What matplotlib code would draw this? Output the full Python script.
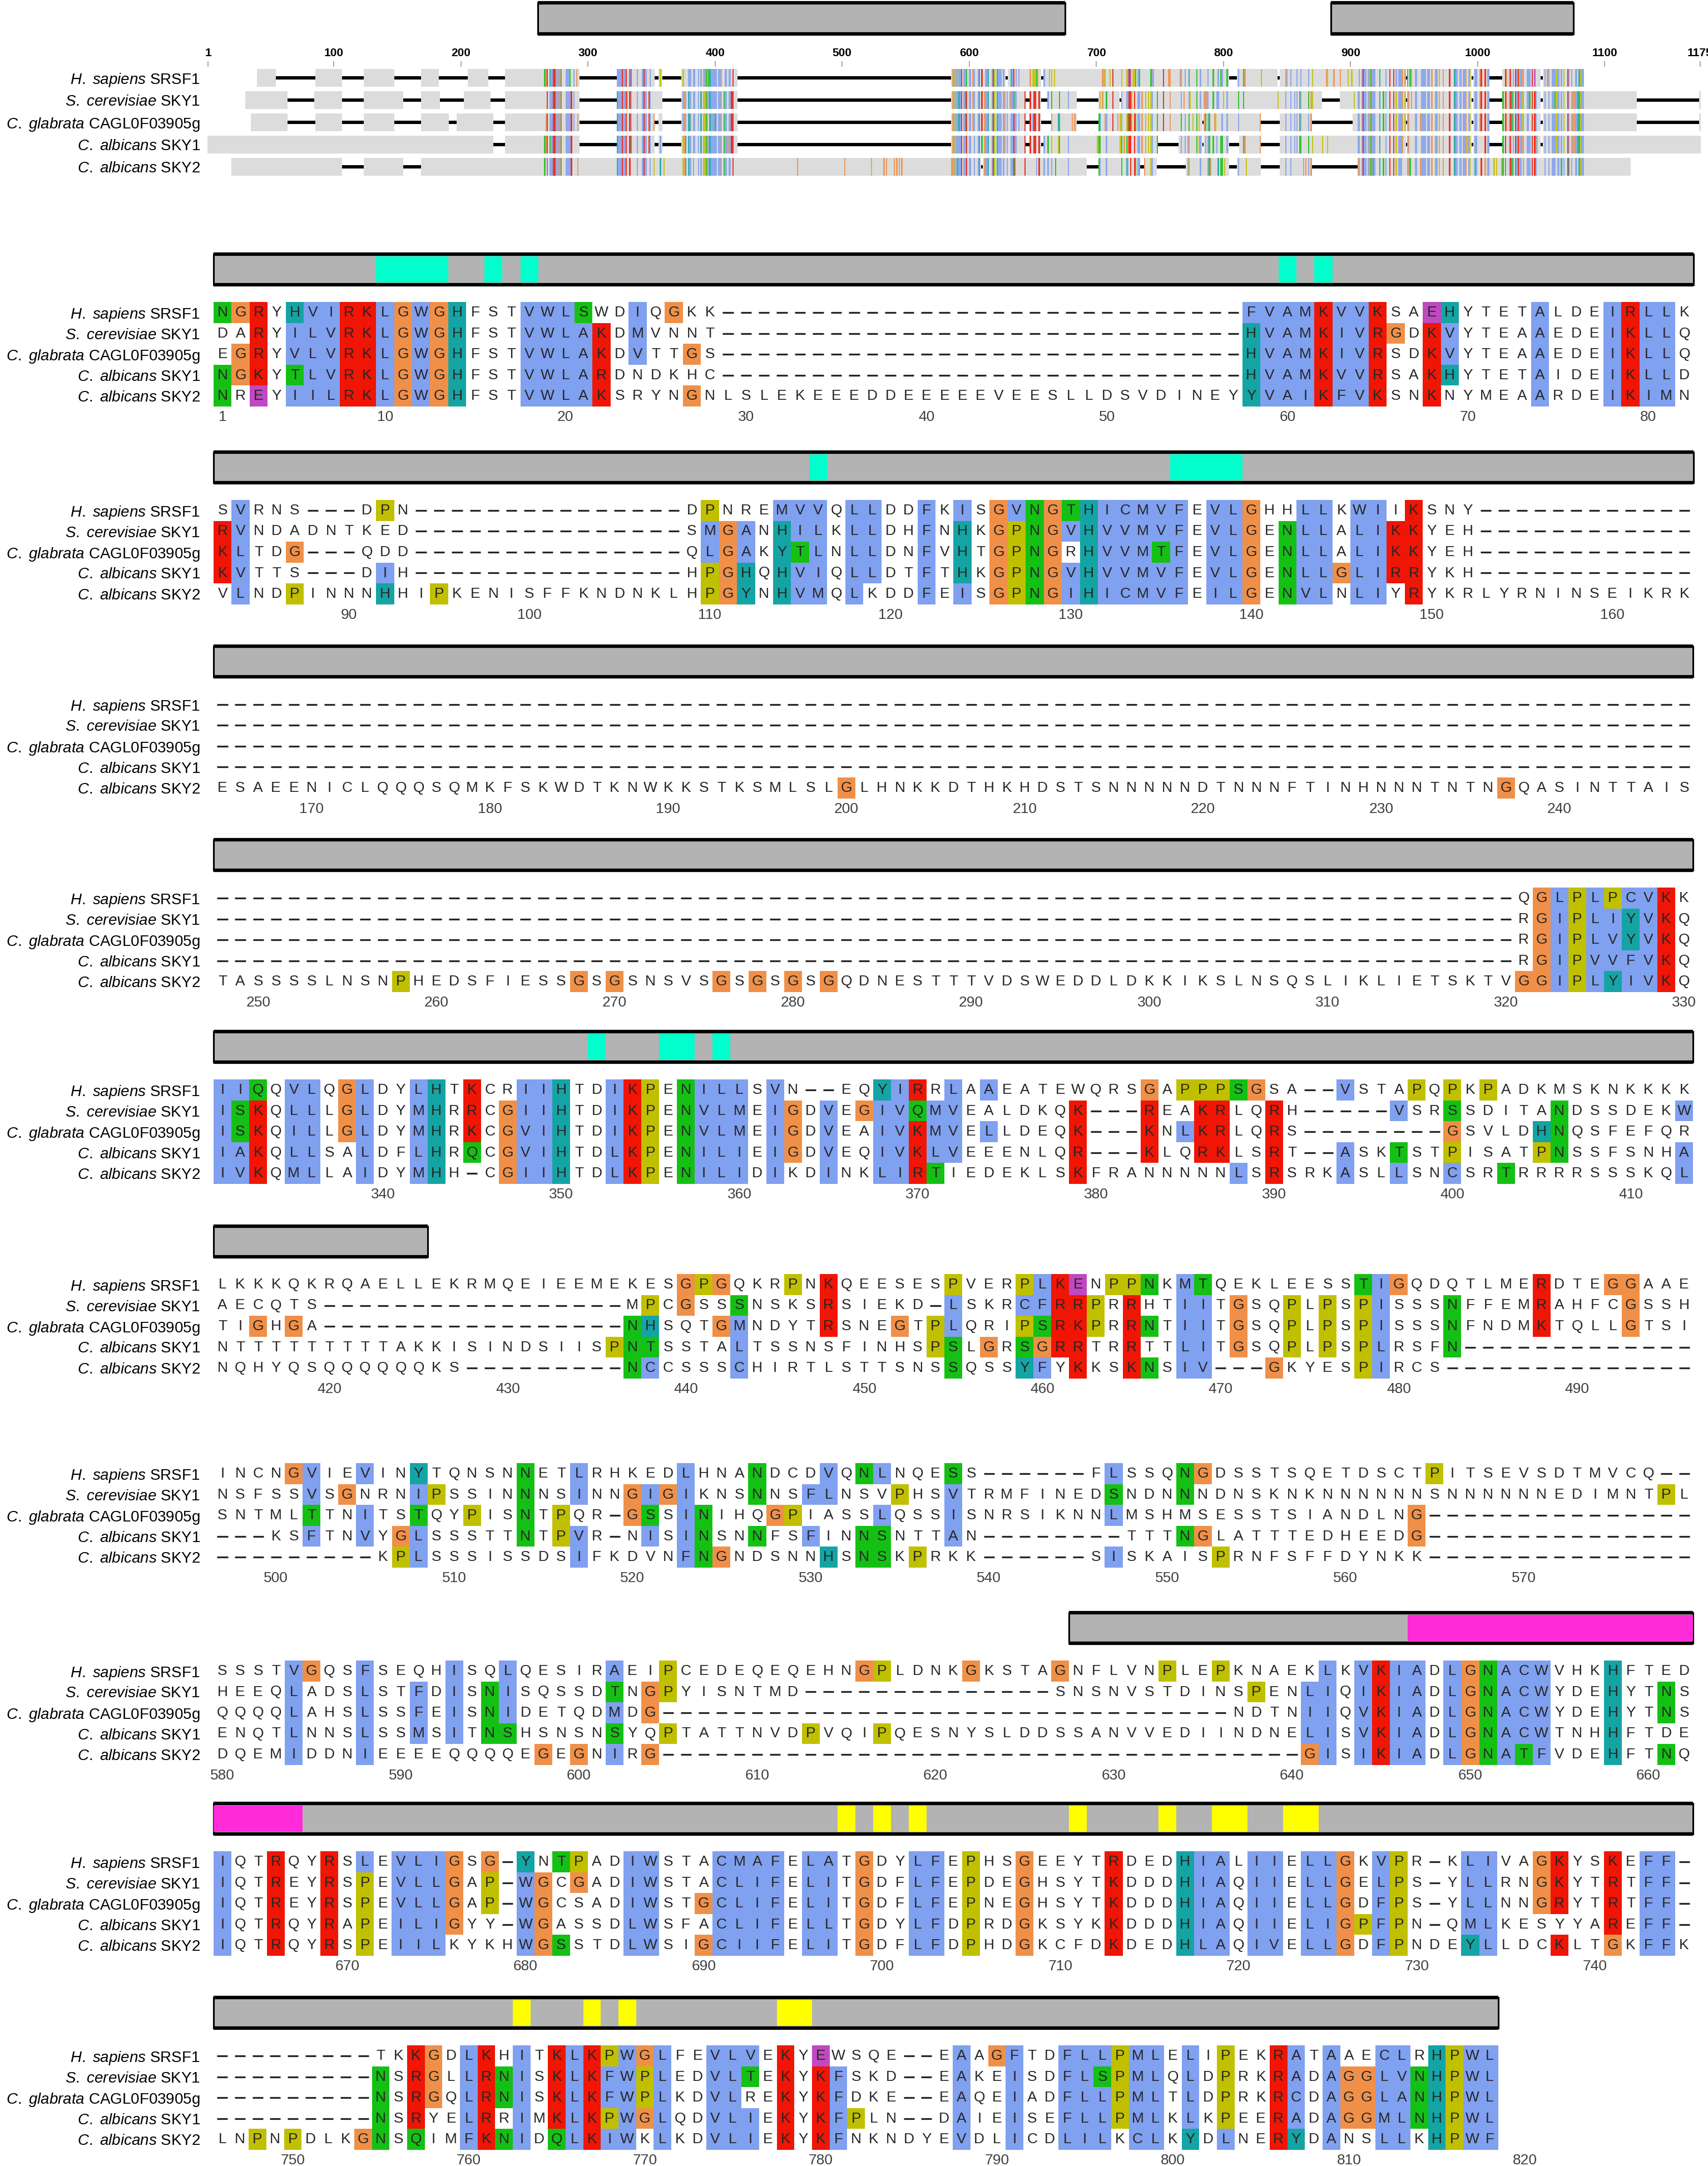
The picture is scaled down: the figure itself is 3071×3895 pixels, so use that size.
import matplotlib
matplotlib.use("Agg")
import matplotlib.pyplot as plt
from matplotlib.patches import Rectangle

W, H = 3071, 3895

plt.rcParams["font.family"] = ["Liberation Sans", "DejaVu Sans"]
plt.rcParams["mathtext.fontset"] = "custom"
plt.rcParams["mathtext.it"] = "Liberation Sans:italic"
plt.rcParams["mathtext.rm"] = "Liberation Sans"

species = ["H.\\ sapiens", "S.\\ cerevisiae", "C.\\ glabrata", "C.\\ albicans", "C.\\ albicans"]
genes = ["SRSF1", "SKY1", "CAGL0F03905g", "SKY1", "SKY2"]

block_starts = [1, 83, 165, 248, 331, 414, 497, 580, 663, 746]
block_lengths = [82, 82, 83, 83, 83, 83, 83, 83, 83, 73]

# one string per wrapped block; upper case = residue shaded by the Clustal colouring
hs_srsf1 = [
    "NGRyHVIRKLGWGHfstVWLSwdIqGkk" + "-" * 29 + "FVAMKVVKsaEHytetAldeIRLLk",
    "sVrns---dPn" + "-" * 15 + "dPnreMVVqLLddFkIsGVNGTHICMVFeVLGhhLLkWIiKsny" + "-" * 12,
    "-" * 83,
    "-" * 73 + "qGLPLPCVKk",
    "IIQqVLqGLdyLHtKcrIIHtdIKPeNILLsVn--eqYIRrLaAeatewqrsGaPPPSGsa--VstaPqPkPadkmsknkkkk",
    "lkkkqkrqaellekrmqeieemekes" + "GPGqkrPnKqeesesPverPLKEnPPNkMTqekleessTIGqdqtlmeRdteGGaae",
    "incnGVieVinYtqnsnNetLrhkedLhnaNdcdVqNLnqeSs------fLssqNGdsstsqetdsctPitsevsdtmvcq--",
    "ssstVGqsFseqhIsqLqesirAeiPcedeqeqehnGPldnkGkstaGnflvnPlePknaekLkVKIAdLGNACWvhkHfted",
    "IqtRqyRsLeVLIGsG-YnTPadIWstaCMAFeLAtGdyLFePhsGeeytRdedHIAlIIeLLGkVPr-kLIvaGKysKeFF-",
    "---------tkKGdLKhItKLKPWGLfeVLVeKyEwsqe--eAaGFtdFLLPMLeLiPekRAtAaeCLrHPWL",
]
sc_sky1 = [
    "daRyILVRKLGWGHfstVWLAKdMvnnt" + "-" * 29 + "HVAMKIVRGdKVyteaAedeIKLLq",
    "RVndadntked" + "-" * 15 + "sMGAnHILkLLdhFnHkGPNGVHVVMVFeVLGeNLLaLIKKyeh" + "-" * 12,
    "-" * 83,
    "-" * 73 + "rGIPLIYVKq",
    "ISKqLLlGLdyMHrRcGIIHtdIKPeNVLMeIGdVeGIVQMVealdkqK---ReaKRlqRh-----VsrSsditaNdssdekW",
    "aecqts" + "-" * 17 + "mPcGssSnsksRsiekd-LskrCFRRPrRhtIItGsqPlPsPIsssNffemRahfcGssh",
    "nsfssVsGnr" "nIPssinNns" "InnGIGIkns" "NnsFLnsvPh" "sVtrmfined"
    "SndnNndnsk" "nknnnnnnsn" "nnnnnedimn" "tPl",
    "heeqLadsLstFdIsNIsqssdTnGPyisntmd" + "-" * 14 + "snsnvstdinsPenLIqIKIAdLGNACWydeHytNs",
    "IqtReyRsPeVLLGaP-WGcGadIWstaCLIFeLItGdfLFePdeGhsytKdddHIAqIIeLLGeLPs-yLLrnGKytRtFF-",
    "---------NsRGlLRNIsKLKFWPLedVLTeKyKFskd--eAkeIsdFLSPMLqLdPrkRAdAGGLVNHPWL",
]
cg_cagl0f03905g = [
    "eGRyVLVRKLGWGHfstVWLAKdVttGs" + "-" * 29 + "HVAMKIVRsdKVyteaAedeIKLLq",
    "KLtdG---qdd" + "-" * 15 + "qLGAkYTLnLLdnFvHtGPNGrHVVMTFeVLGeNLLaLIKKyeh" + "-" * 12,
    "-" * 83,
    "-" * 73 + "rGIPLVYVKq",
    "ISKqILlGLdyMHrKcGVIHtdIKPeNVLMeIGdVeaIVKMVeLldeqK---KnLKRlqRs--------GsvldHNqsfefqr",
    "tiGhGa" + "-" * 17 + "NHsqtGMndytRsneGtPLqriPSRKPrRNtIItGsqPlPsPIsssNfndmKtqllGtsi",
    "sntmlTtnItsTqyPisNtPqr-GSsINihqGPiassLqssIsnrsiknnLmshmsesstsiandlnG" + "-" * 15,
    "qqqqLahsLssFeIsNIdetqdMdG" + "-" * 32 + "ndtnIIqVKIAdLGNACWydeHytNs",
    "IqtReyRsPeVLLGaP-WGcsadIWstGCLIFeLItGdfLFePneGhsytKdddHIAqIIeLLGdFPs-yLLnnGRytRtFF-",
    "---------NsRGqLRNIsKLKFWPLkdVLreKyKFdke--eAqeIadFLLPMLtLdPrkRCdAGGLANHPWL",
]
ca_sky1 = [
    "NGKyTLVRKLGWGHfstVWLARdndkhc" + "-" * 29 + "HVAMKVVRsaKHytetAideIKLLd",
    "KVtts---dIh" + "-" * 15 + "hPGHqHVIqLLdtFtHkGPNGVHVVMVFeVLGeNLLGLIRRykh" + "-" * 12,
    "-" * 83,
    "-" * 73 + "rGIPVVFVKq",
    "IAKqLLsaLdfLHrQcGVIHtdLKPeNILIeIGdVeqIVKLVeeenlqR---KlqRKlsRt--AskTstPisatPNssfsnhA",
    "ntttttttttakkisindsiisPNTsstaLtssnsfinhsPSlGrSGRRtrRttLItGsqPlPsPLrsfN" + "-" * 13,
    "---ksFtnVyGLsssttNtPVr-nIsINsnNfsFinNSnttAn--------tttNGlatttedheedG" + "-" * 15,
    "enqtLnnsLssMsItNShsnsnSyqPtattnvdPvqiPqesnyslddssanvvediindneLIsVKIAdLGNACWtnhHftde",
    "IqtRqyRaPeILIGyy-WGassdLWsfaCLIFeLLtGdyLFdPrdGksykKdddHIAqIIeLIGPFPn-qMLkesyyaReFF-",
    "---------NsRyeLRrImKLKPWGLqdVLIeKyKFPln--dAieIseFLLPMLkLkPeeRAdAGGMLNHPWL",
]
ca_sky2 = [
    "NrEyIILRKLGWGHfstVWLAKsrynGnlslekeeeddeeeeeveeslldsvdiney" + "YVAIKFVKsnKnymeaArdeIKIMn",
    "vLndPinnnHhiPkenisffkndnklhPGYnHVMqLkddFeIsGPNGIHICMVFeILGeNVLnLIyRykrlyrninseikrk",
    "esaeeniclqqqsqmkfskwdtknwkkstksmlslGlhnkkdthkhdstsnnnnndtnnnftinhnnntntnGqasinttais",
    "tasssslnsnPhedsfiessGsGsnsvsGsGsGsGqdnestttvdsweddldkkikslnsqslikliets" + "ktvGGIPLYIVKq",
    "IVKqMLlaIdyMHh-cGIIHtdLKPeNILIdIkdInkLIRTiedeklsKfrannnnnLsRsrkAslLsnCsrTrrrrssskqL",
    "nqhyqsqqqqqqks" + "-" * 9 + "NCcsssChirtlsttsnsSqssYFyKksKNsIV---GkyesPIrcs" + "-" * 14,
    "---------kPLsssissdsIfkdvnFNGndsnnHsNSkPrkk------sIskaisPrnfsffdynkk" + "-" * 15,
    "dqemIddnIeeeeqqqqeGeGnIrG" + "-" * 36 + "GIsIKIAdLGNATFvdeHftNq",
    "IqtRqyRsPeIILkykhWGSstdLWsiGCIIFeLItGdfLFdPhdGkcfdKdedHLAqIVeLLGdFPndeYLldcKltGkFFk",
    "lnPnPdlkGNsQimFKNIdQLKIWkLkdVLIeKyKFnkndyeVdlIcdLILkCLkYdLneRYdAnsLLkHPWF",
]
alignment = [hs_srsf1, sc_sky1, cg_cagl0f03905g, ca_sky1, ca_sky2]

# kinase domain halves and highlighted sites (alignment columns of the detail view)
domains = [(1, 425), (628, 818)]
cyan_sites = [(10, 13), (16, 16), (18, 18), (60, 60), (62, 62), (116, 116), (136, 139),
              (352, 352), (356, 357), (359, 359)]
magenta_sites = [(647, 667)]
yellow_sites = [(698, 698), (700, 700), (702, 702), (711, 711), (716, 716), (719, 720),
                (723, 724), (763, 763), (767, 767), (769, 769), (778, 779)]

# overview of the full alignment (its own column numbering)
overview_len = 1175
overview_offset = 265
overview_domains = [(261, 675), (885, 1075)]
nterm_runs = [
    [(40, 54), (86, 106), (124, 147), (169, 182), (206, 221), (235, 265)],
    [(31, 63), (85, 106), (124, 154), (169, 183), (203, 223), (235, 265)],
    [(35, 63), (86, 106), (124, 147), (169, 190), (197, 225), (235, 265)],
    [(1, 225), (235, 265)],
    [(20, 106), (124, 154), (169, 265)],
]
cterm_runs = [
    [],
    [(1084, 1125), (1175, 1175)],
    [(1084, 1125), (1175, 1175)],
    [(1084, 1175)],
    [(1084, 1120)],
]
overview_ticks = [1, 100, 200, 300, 400, 500, 600, 700, 800, 900, 1000, 1100, 1175]

for gene, rows in zip(genes, alignment):
    for b, s in enumerate(rows):
        if len(s) != block_lengths[b]:
            raise ValueError(f"{gene} block {b + 1}: {len(s)} != {block_lengths[b]}")

clustal = {}
clustal.update(dict.fromkeys("AILMFWVC", "#80a0f0"))
clustal.update(dict.fromkeys("KR", "#f01505"))
clustal.update(dict.fromkeys("NQST", "#15c015"))
clustal.update(dict.fromkeys("DE", "#c048c0"))
clustal.update(dict.fromkeys("HY", "#15a4a4"))
clustal["G"] = "#f09048"
clustal["P"] = "#c0c000"
feature_colours = [("#00ffcc", cyan_sites), ("#ff2ad8", magenta_sites), ("#ffff00", yellow_sites)]


def shaded(ch):
    return ch != "-" and (ch.isupper() or ch.upper() in "GP")


labels = [rf"$\mathit{{{sp}}}$ {g}" for sp, g in zip(species, genes)]

fig = plt.figure(figsize=(W / 100, H / 100), dpi=100)


def px_axes(x, y, w, h):
    ax = fig.add_axes([x / W, 1 - (y + h) / H, w / W, h / H])
    ax.set_facecolor("none")
    for sp in ax.spines.values():
        sp.set_visible(False)
    return ax


def domain_bar(ax, lo, hi):
    ax.add_patch(Rectangle((lo - 0.5, 0), hi - lo + 1, 1, facecolor="#b3b3b3",
                           edgecolor="black", lw=2.2, clip_on=False, zorder=1))
    ax.hlines([0, 1], lo - 0.5, hi + 0.5, color="black", lw=4.5, clip_on=False, zorder=3)


# ---------------- detail blocks ----------------
x_left = 384
col_w = [32.45, 32.45] + [32.05] * 7 + [31.65]
row_h = 37.5
y_human = [562, 918, 1267, 1615, 1960, 2310, 2650, 3005, 3348, 3697]

for b, start in enumerate(block_starts):
    n = block_lengths[b]
    end = start + n - 1
    ruler_end = 820 if b == len(block_starts) - 1 else end
    ncols = ruler_end - start + 1
    cw = col_w[b]
    yh = y_human[b]

    ax = px_axes(x_left, yh - row_h / 2, ncols * cw, 5 * row_h)
    ax.set_xlim(start - 0.5, ruler_end + 0.5)
    ax.set_ylim(4.5, -0.5)

    for r, rows in enumerate(alignment):
        seq = rows[b]
        xs = [start + j for j, ch in enumerate(seq) if shaded(ch)]
        cs = [clustal[ch.upper()] for ch in seq if shaded(ch)]
        if xs:
            ax.bar(xs, 1.0, bottom=r - 0.5, width=1.0, color=cs, linewidth=0, zorder=1)
        gaps = [start + j for j, ch in enumerate(seq) if ch == "-"]
        if gaps:
            ax.hlines([r] * len(gaps), [g - 0.3 for g in gaps], [g + 0.3 for g in gaps],
                      color="#262626", lw=2.3, zorder=2)
        for j, ch in enumerate(seq):
            if ch != "-":
                ax.text(start + j, r, ch.upper(), ha="center", va="center",
                        fontsize=19, color="#262626", zorder=3)

    ticks = [t for t in range(10, 2000, 10) if start <= t <= ruler_end]
    if start == 1:
        ticks = [1] + ticks
    ax.set_xticks(ticks)
    ax.set_xticklabels([str(t) for t in ticks])
    ax.tick_params(axis="x", length=0, pad=5, labelsize=19, labelcolor="#404040")
    ax.set_yticks(range(5))
    ax.set_yticklabels(labels)
    ax.tick_params(axis="y", length=0, pad=(x_left - 360) / 1.389, labelsize=20)

    # domain annotation bar above the block
    hits = [(max(d0, start), min(d1, end)) for d0, d1 in domains if d0 <= end and d1 >= start]
    if hits:
        bx = px_axes(x_left, yh - 105, ncols * cw, 55)
        bx.set_xlim(start - 0.5, ruler_end + 0.5)
        bx.set_ylim(0, 1)
        bx.set_xticks([])
        bx.set_yticks([])
        for lo, hi in hits:
            domain_bar(bx, lo, hi)
        for colour, sites in feature_colours:
            for a, c in sites:
                lo, hi = max(a, start), min(c, end)
                if lo <= hi:
                    bx.add_patch(Rectangle((lo - 0.5, 0.08), hi - lo + 1, 0.84,
                                           facecolor=colour, lw=0, zorder=2))

# ---------------- overview ----------------
ov_cw = 2.285
ov_x = 374 - ov_cw / 2
ov_w = overview_len * ov_cw


def runs(cols):
    out = []
    for c in sorted(cols):
        if out and c == out[-1][0] + out[-1][1]:
            out[-1][1] += 1
        else:
            out.append([c, 1])
    return [(c - 0.5, k) for c, k in out]


ov = px_axes(ov_x, 120, ov_w, 200)
ov.set_xlim(0.5, overview_len + 0.5)
ov.set_ylim(4.5, -0.5)
for r, rows in enumerate(alignment):
    cells = {}
    for a, c in nterm_runs[r] + cterm_runs[r]:
        for k in range(a, c + 1):
            cells[k] = "x"
    for b, start in enumerate(block_starts):
        for j, ch in enumerate(rows[b]):
            if ch != "-":
                cells[start + j + overview_offset] = ch
    first, last = min(cells), max(cells)
    gap_cols = [k for k in range(first, last + 1) if k not in cells]
    ov.broken_barh(runs(gap_cols), (r - 0.065, 0.13), facecolors="black", zorder=1)
    ov.broken_barh(runs(cells.keys()), (r - 0.39, 0.78), facecolors="#dcdcdc", zorder=1)
    xs = [k for k, ch in cells.items() if shaded(ch)]
    cs = [clustal[cells[k].upper()] for k in xs]
    ov.bar(xs, 0.78, bottom=r - 0.39, width=1.0, color=cs, alpha=0.85, linewidth=0, zorder=2)

ov.xaxis.tick_top()
ov.set_xticks(overview_ticks)
ov.set_xticklabels([str(t) for t in overview_ticks], fontweight="bold")
ov.tick_params(axis="x", length=7, width=1.2, color="#999999", pad=4, labelsize=15,
               top=True, bottom=False)
ov.set_yticks(range(5))
ov.set_yticklabels(labels)
ov.tick_params(axis="y", length=0, pad=(ov_x - 360) / 1.389, labelsize=20)

top = px_axes(ov_x, 5, ov_w, 56)
top.set_xlim(0.5, overview_len + 0.5)
top.set_ylim(0, 1)
top.set_xticks([])
top.set_yticks([])
for d0, d1 in overview_domains:
    domain_bar(top, d0, d1)

fig.savefig("out.png", dpi=100, facecolor="white")
